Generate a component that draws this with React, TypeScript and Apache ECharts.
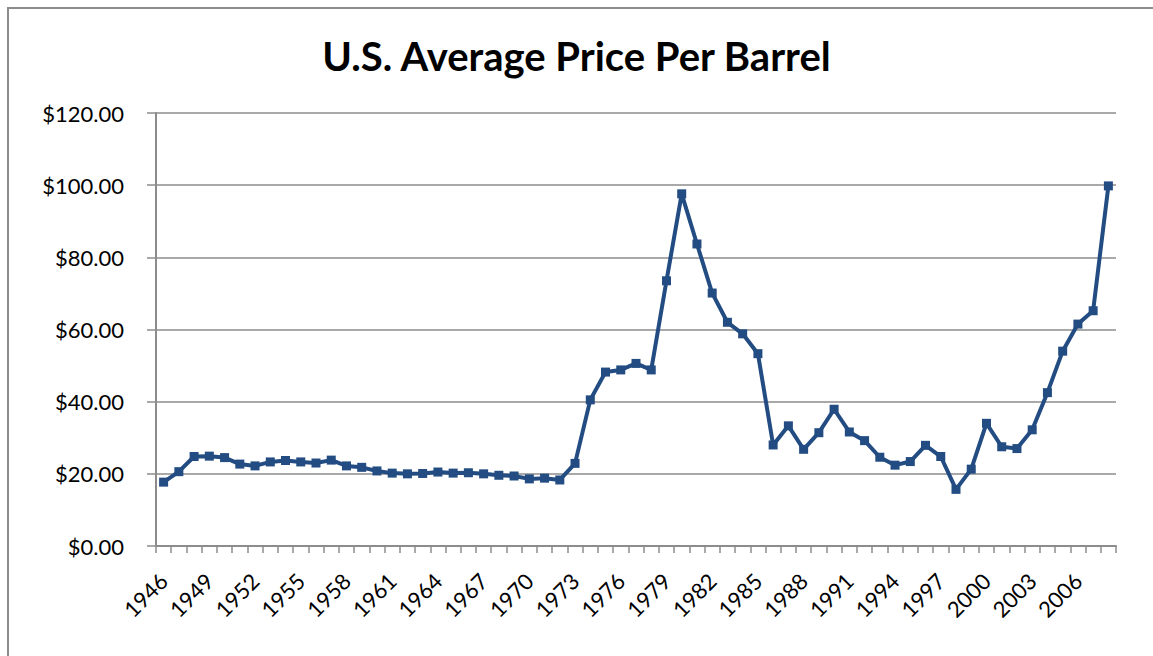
import React, { useEffect, useRef } from "react";
import * as echarts from "echarts";

const years: string[] = [];
for (let y = 1946; y <= 2008; y++) years.push(String(y));

const prices = [
  17.7, 20.6, 24.8, 24.9, 24.5, 22.7, 22.2, 23.3, 23.7, 23.3,
  23.0, 23.8, 22.2, 21.8, 20.8, 20.2, 20.0, 20.1, 20.5, 20.2,
  20.3, 20.0, 19.6, 19.4, 18.6, 18.8, 18.3, 22.9, 40.5, 48.2,
  48.8, 50.6, 48.8, 73.5, 97.6, 83.7, 70.1, 62.0, 58.8, 53.3,
  28.0, 33.3, 26.8, 31.4, 37.9, 31.6, 29.2, 24.6, 22.4, 23.4,
  27.9, 24.8, 15.7, 21.3, 34.0, 27.5, 27.0, 32.2, 42.5, 54.0,
  61.5, 65.2, 99.8,
];

const yTicks = [0, 20, 40, 60, 80, 100, 120];

export default function App() {
  const ref = useRef<HTMLDivElement>(null);
  useEffect(() => {
    if (!ref.current) return;
    const chart = echarts.init(ref.current, undefined, { renderer: "svg" });
    chart.setOption({
      animation: false,
      backgroundColor: "#ffffff",
      title: {
        text: "U.S. Average Price Per Barrel",
        left: "center",
        top: 31,
        textStyle: { fontFamily: "Lato", fontWeight: "bold", fontSize: 40, color: "#000" },
      },
      graphic: [
        {
          type: "rect",
          shape: { x: 8, y: 8, width: 1200, height: 700 },
          style: { fill: "none", stroke: "#8c8c8c", lineWidth: 2 },
          silent: true,
        },
      ],
      grid: { left: 156, right: 37, top: 113, bottom: 110 },
      xAxis: {
        type: "category",
        data: years,
        boundaryGap: true,
        axisLine: { lineStyle: { color: "#8c8c8c", width: 2 } },
        axisTick: { show: true, interval: 0, length: 7, lineStyle: { color: "#8c8c8c", width: 1.5 } },
        axisLabel: {
          interval: 2,
          rotate: 45,
          fontFamily: "Lato",
          fontSize: 22,
          color: "#000",
          margin: 31,
        },
        splitLine: { show: false },
      },
      yAxis: {
        type: "value",
        min: yTicks[0],
        max: yTicks[yTicks.length - 1],
        interval: 20,
        axisLine: { show: true, lineStyle: { color: "#8c8c8c", width: 2 } },
        axisTick: { show: true, length: 9, lineStyle: { color: "#8c8c8c", width: 1.5 } },
        axisLabel: {
          fontFamily: "Lato",
          fontSize: 22,
          color: "#000",
          margin: 32,
          formatter: (v: number) => "$" + v.toFixed(2),
        },
        splitLine: { show: true, lineStyle: { color: "#8c8c8c", width: 1.5 } },
      },
      series: [
        {
          type: "line",
          data: prices,
          symbol: "rect",
          symbolSize: 9,
          lineStyle: { color: "#224C82", width: 4 },
          itemStyle: { color: "#224C82" },
        },
      ],
    });
    return () => chart.dispose();
  }, []);
  return <div ref={ref} style={{ width: 1153, height: 656, position: "absolute", left: 0, top: 0 }} />;
}
